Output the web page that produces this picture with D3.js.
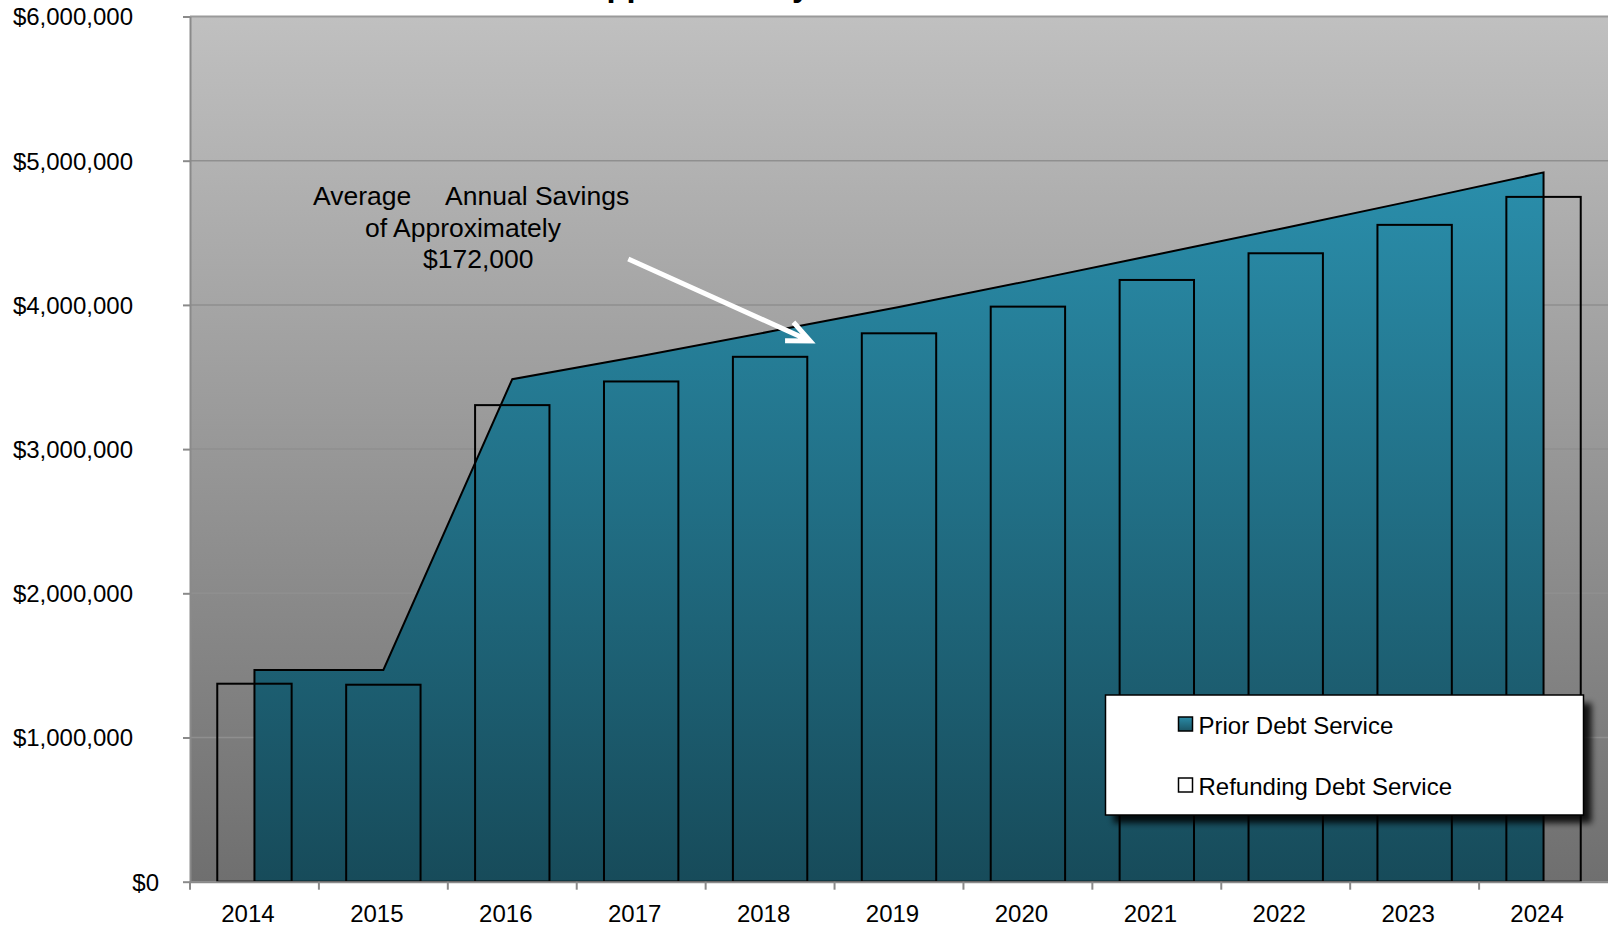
<!DOCTYPE html>
<html>
<head>
<meta charset="utf-8">
<script src="https://cdn.jsdelivr.net/npm/d3@7.9.0/dist/d3.min.js"></script>
<style>
  html, body { margin: 0; padding: 0; background: #fff; }
  svg { display: block; font-family: "Liberation Sans", Arial, sans-serif; }
</style>
</head>
<body>
<div id="chart"></div>
<script>
/* ── data ─────────────────────────────────────────────── */
const years = ['2014', '2015', '2016', '2017', '2018', '2019', '2020', '2021', '2022', '2023', '2024'];
const priorDebt = [1468000, 1468000, 3485000, 3645000, 3815000, 3985000, 4165000, 4350000, 4535000, 4725000, 4919000];
const refundingDebt = [1373000, 1366000, 3305000, 3469000, 3640000, 3803000, 3988000, 4173000, 4358000, 4555000, 4749000];
const yTicks = [0, 1000000, 2000000, 3000000, 4000000, 5000000, 6000000];
const seriesNames = ['Prior Debt Service', 'Refunding Debt Service'];
const noteWords = ['Average', 'Annual Savings', 'of Approximately', '$172,000'];

/* ── layout ───────────────────────────────────────────── */
const width = 1608, height = 927;
const plot = { left: 190, right: 1608, top: 16.5, bottom: 881.7 };

const svg = d3.select('#chart').append('svg')
  .attr('width', width).attr('height', height);

const x = d3.scaleBand().domain(years).range([plot.left, plot.right]).padding(0);
const y = d3.scaleLinear().domain([0, 6000000]).range([plot.bottom, plot.top]);
const bw = x.bandwidth();
const cx = d => x(d) + bw / 2;

/* gradients */
const defs = svg.append('defs');
const bg = defs.append('linearGradient').attr('id', 'bg')
  .attr('gradientUnits', 'userSpaceOnUse')
  .attr('x1', 0).attr('x2', 0).attr('y1', plot.top).attr('y2', plot.bottom);
bg.append('stop').attr('offset', 0).attr('stop-color', '#c0c0c0');
bg.append('stop').attr('offset', 1).attr('stop-color', '#6f6f6f');

const teal = defs.append('linearGradient').attr('id', 'teal')
  .attr('gradientUnits', 'userSpaceOnUse')
  .attr('x1', 0).attr('x2', 0).attr('y1', y(d3.max(priorDebt))).attr('y2', plot.bottom);
teal.append('stop').attr('offset', 0).attr('stop-color', '#2a8eab');
teal.append('stop').attr('offset', 1).attr('stop-color', '#174b5a');

const tealSmall = defs.append('linearGradient').attr('id', 'tealSmall')
  .attr('x1', 0).attr('x2', 0).attr('y1', 0).attr('y2', 1);
tealSmall.append('stop').attr('offset', 0).attr('stop-color', '#2a8ba7');
tealSmall.append('stop').attr('offset', 1).attr('stop-color', '#1b5565');

const blur = defs.append('filter').attr('id', 'shadow')
  .attr('x', '-10%').attr('y', '-20%').attr('width', '130%').attr('height', '150%');
blur.append('feGaussianBlur').attr('stdDeviation', 3);

/* plot background */
svg.append('rect')
  .attr('x', plot.left).attr('y', plot.top)
  .attr('width', plot.right - plot.left).attr('height', plot.bottom - plot.top)
  .attr('fill', 'url(#bg)');

/* gridlines */
svg.append('g')
  .selectAll('line')
  .data(yTicks.filter(d => d > 0))
  .join('line')
  .attr('x1', plot.left).attr('x2', plot.right)
  .attr('y1', d => y(d)).attr('y2', d => y(d))
  .attr('stroke', d => d === 6000000 ? '#9a9a9a' : '#8f8f8f')
  .attr('stroke-width', d => d === 6000000 ? 2 : 1.5);

/* prior debt service area */
const area = d3.area()
  .x((d, i) => cx(years[i]))
  .y0(y(0))
  .y1(d => y(d));
svg.append('path')
  .datum(priorDebt)
  .attr('d', area)
  .attr('fill', 'url(#teal)')
  .attr('stroke', '#000')
  .attr('stroke-width', 2)
  .attr('stroke-linejoin', 'miter');

/* refunding bars (outline only) */
const barW = bw * 0.577;
svg.append('g')
  .selectAll('rect')
  .data(refundingDebt)
  .join('rect')
  .attr('x', (d, i) => cx(years[i]) - barW / 2)
  .attr('y', d => y(d))
  .attr('width', barW)
  .attr('height', d => y(0) - y(d))
  .attr('fill', 'none')
  .attr('stroke', '#000')
  .attr('stroke-width', 2);

/* axes */
const xAxis = svg.append('g')
  .attr('transform', `translate(0,${plot.bottom})`)
  .call(d3.axisBottom(x).tickSize(8).tickSizeOuter(0));
xAxis.select('.domain').attr('stroke', '#8a8a8a').attr('stroke-width', 2);
xAxis.selectAll('.tick line')
  .attr('x1', -bw / 2).attr('x2', -bw / 2)
  .attr('stroke', '#8a8a8a').attr('stroke-width', 2);
xAxis.selectAll('.tick text')
  .attr('x', -6.5).attr('dy', null).attr('y', 40)
  .attr('font-size', 24).attr('font-family', '"Liberation Sans", Arial, sans-serif')
  .attr('fill', '#000');

const yAxis = svg.append('g')
  .attr('transform', `translate(${plot.left},0)`)
  .call(d3.axisLeft(y).tickValues(yTicks).tickFormat(d3.format('$,')).tickSize(7).tickSizeOuter(0));
yAxis.select('.domain').attr('stroke', '#8a8a8a').attr('stroke-width', 2);
yAxis.selectAll('.tick line').attr('stroke', '#8a8a8a').attr('stroke-width', 2);
yAxis.selectAll('.tick text')
  .attr('x', d => d === 0 ? -31 : -57)
  .attr('dy', '0.35em')
  .attr('font-size', 24).attr('font-family', '"Liberation Sans", Arial, sans-serif')
  .attr('fill', '#000');

/* title (cut off at the top edge, only descenders show) */
svg.append('text')
  .attr('x', 583).attr('y', -4.5)
  .attr('font-size', 32.7).attr('font-weight', 'bold')
  .text('Approximately');

/* annotation */
const note = svg.append('g').attr('font-size', 26.5).attr('fill', '#000');
const notePos = [[313, 205], [445, 205], [365, 236.5], [423, 268]];
note.selectAll('text')
  .data(noteWords)
  .join('text')
  .attr('x', (d, i) => notePos[i][0])
  .attr('y', (d, i) => notePos[i][1])
  .text(d => d);

/* arrow, placed in data space */
const px = p => plot.left + p * bw;
const from = [px(3.4), y(4318000)];
const to = [px(4.81), y(3750000)];
const ang = Math.atan2(to[1] - from[1], to[0] - from[0]);
const head = 25, spread = 0.42;
const h1 = [to[0] - head * Math.cos(ang - spread), to[1] - head * Math.sin(ang - spread)];
const h2 = [to[0] - head * Math.cos(ang + spread), to[1] - head * Math.sin(ang + spread)];
svg.append('path')
  .attr('d', `M${from}L${to}M${h1}L${to}L${h2}`)
  .attr('fill', 'none')
  .attr('stroke', '#fff')
  .attr('stroke-width', 5)
  .attr('stroke-linejoin', 'miter');

/* legend */
const lg = { x: 1105.5, y: 695, w: 478, h: 120 };
svg.append('rect')
  .attr('x', lg.x + 8).attr('y', lg.y + 8).attr('width', lg.w).attr('height', lg.h)
  .attr('fill', '#000').attr('opacity', 0.85).attr('filter', 'url(#shadow)');
svg.append('rect')
  .attr('x', lg.x).attr('y', lg.y).attr('width', lg.w).attr('height', lg.h)
  .attr('fill', '#fff').attr('stroke', '#000').attr('stroke-width', 1.5);

const items = svg.append('g')
  .selectAll('g')
  .data(seriesNames)
  .join('g')
  .attr('transform', (d, i) => `translate(${lg.x + 73},${lg.y + 22 + i * 61})`);
items.append('rect')
  .attr('width', 14).attr('height', 14)
  .attr('fill', (d, i) => i === 0 ? 'url(#tealSmall)' : '#fff')
  .attr('stroke', '#000').attr('stroke-width', 1.5);
items.append('text')
  .attr('x', 20).attr('y', 16.5)
  .attr('font-size', 24)
  .text(d => d);
</script>
</body>
</html>
